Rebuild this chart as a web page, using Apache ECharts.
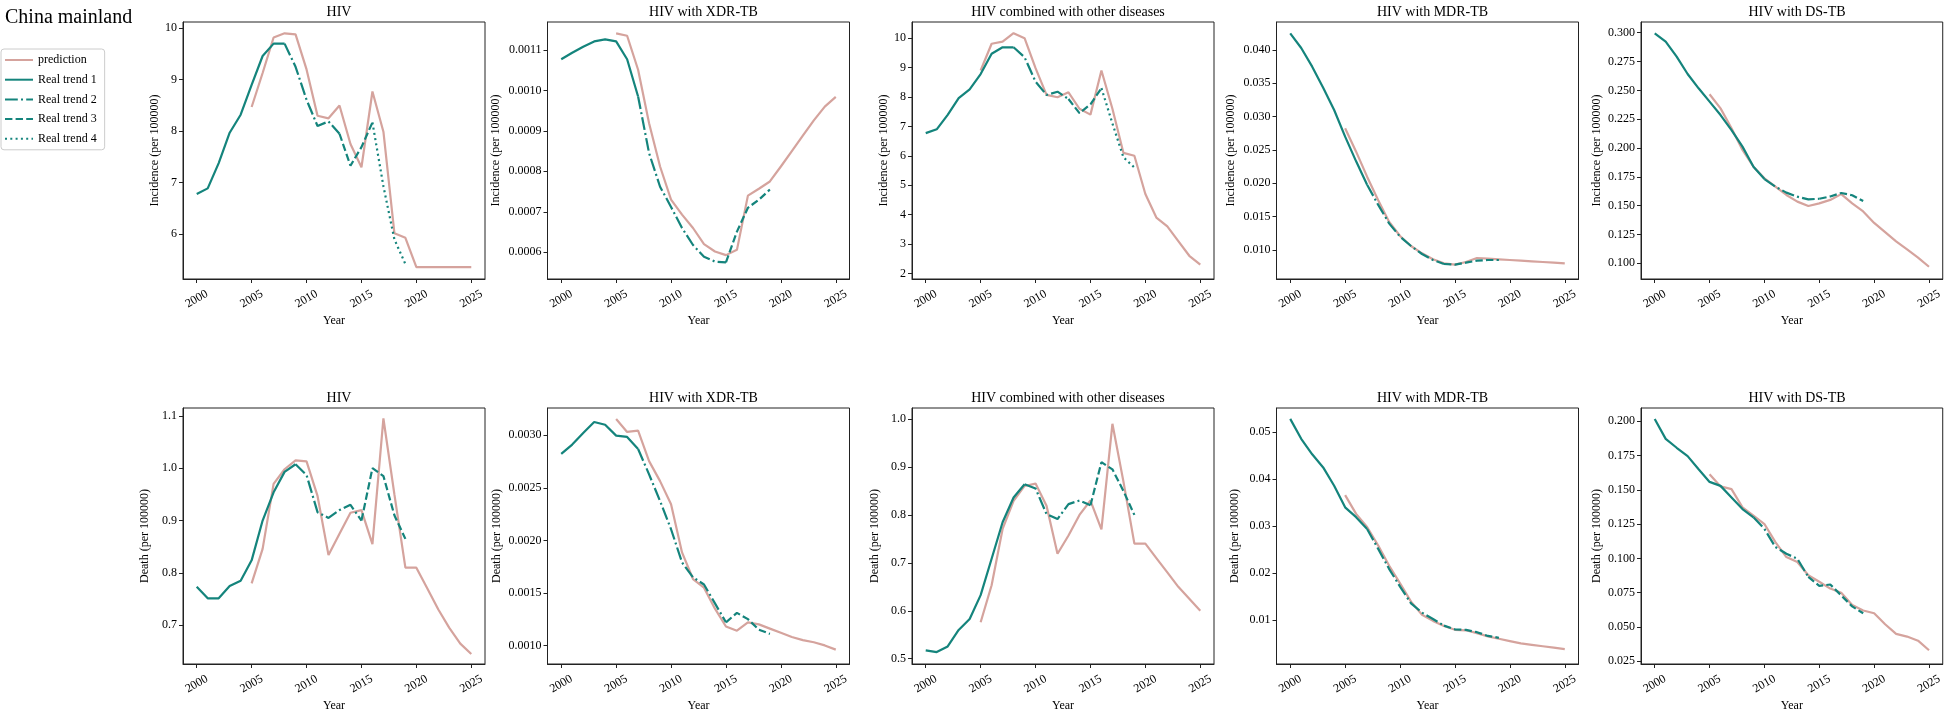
<!DOCTYPE html>
<html>
<head>
<meta charset="utf-8">
<script src="https://cdn.jsdelivr.net/npm/echarts@6/dist/echarts.min.js"></script>
<style>
  html, body { margin: 0; padding: 0; background: #fff; }
  #main { width: 1945px; height: 713px; }
</style>
</head>
<body>
<div id="main"></div>
<script>
// years of the observed (real) series and of the prediction series
const realYears = [2000, 2001, 2002, 2003, 2004, 2005, 2006, 2007, 2008, 2009, 2010, 2011, 2012, 2013, 2014, 2015, 2016, 2017, 2018, 2019];
const predYears = [2005, 2006, 2007, 2008, 2009, 2010, 2011, 2012, 2013, 2014, 2015, 2016, 2017, 2018, 2019, 2020, 2021, 2022, 2023, 2024, 2025];
const yearTicks = [2000, 2005, 2010, 2015, 2020, 2025];

const panelTitles = ['HIV', 'HIV with XDR-TB', 'HIV combined with other diseases', 'HIV with MDR-TB', 'HIV with DS-TB',
                     'HIV', 'HIV with XDR-TB', 'HIV combined with other diseases', 'HIV with MDR-TB', 'HIV with DS-TB'];
const yNames = ['Incidence (per 100000)', 'Incidence (per 100000)', 'Incidence (per 100000)', 'Incidence (per 100000)', 'Incidence (per 100000)',
                'Death (per 100000)', 'Death (per 100000)', 'Death (per 100000)', 'Death (per 100000)', 'Death (per 100000)'];

// incidence, real
const incHivReal  = [6.78, 6.89, 7.38, 7.97, 8.32, 8.90, 9.46, 9.70, 9.70, 9.25, 8.61, 8.10, 8.19, 7.95, 7.33, 7.69, 8.17, 6.93, 5.90, 5.42];
const incXdrReal  = [0.001077, 0.001093, 0.001108, 0.001121, 0.001126, 0.001121, 0.001077, 0.000985, 0.000845, 0.000762, 0.000712, 0.000660, 0.000618, 0.000589, 0.000577, 0.000575, 0.000651, 0.000710, 0.000730, 0.000755];
const incCombReal = [6.77, 6.90, 7.39, 7.96, 8.26, 8.78, 9.47, 9.69, 9.69, 9.35, 8.52, 8.07, 8.18, 7.93, 7.45, 7.75, 8.30, 7.10, 5.95, 5.60];
const incMdrReal  = [0.0425, 0.0403, 0.0375, 0.03435, 0.0310, 0.0270, 0.0233, 0.0198, 0.0168, 0.0140, 0.0120, 0.0106, 0.0094, 0.0085, 0.0079, 0.0078, 0.0081, 0.0084, 0.0085, 0.0085];
const incDsReal   = [0.2995, 0.2922, 0.2792, 0.2642, 0.2518, 0.2402, 0.2286, 0.2156, 0.2012, 0.1838, 0.1731, 0.1665, 0.1613, 0.1578, 0.1555, 0.1560, 0.1580, 0.1610, 0.1590, 0.1540];
// incidence, prediction
const incHivPred  = [8.47, 9.13, 9.82, 9.90, 9.88, 9.20, 8.30, 8.25, 8.50, 7.75, 7.30, 8.77, 7.99, 6.02, 5.93, 5.36, 5.36, 5.36, 5.36, 5.36, 5.36];
const incXdrPred  = [0.001141, 0.001135, 0.001051, 0.000919, 0.000812, 0.000730, 0.000693, 0.000660, 0.000620, 0.000602, 0.000593, 0.000606, 0.000740, 0.000757, 0.000775, 0.000812, 0.000850, 0.000888, 0.000926, 0.000960, 0.000984];
const incCombPred = [8.90, 9.81, 9.88, 10.17, 10.00, 8.98, 8.07, 7.99, 8.16, 7.60, 7.40, 8.90, 7.60, 6.10, 6.00, 4.70, 3.90, 3.60, 3.10, 2.60, 2.30];
const incMdrPred  = [0.02825, 0.02475, 0.0210, 0.0175, 0.01425, 0.0121, 0.0106, 0.0095, 0.0086, 0.0080, 0.0078, 0.0082, 0.0088, 0.0087, 0.0086, 0.0085, 0.0084, 0.0083, 0.0082, 0.0081, 0.0080];
const incDsPred   = [0.2466, 0.2344, 0.2171, 0.1983, 0.1838, 0.1737, 0.1665, 0.1593, 0.1535, 0.1497, 0.1520, 0.1550, 0.1600, 0.1520, 0.1450, 0.1350, 0.1270, 0.1190, 0.1120, 0.1050, 0.0970];

// death, real
const dthHivReal  = [0.7736, 0.7514, 0.7514, 0.7748, 0.785, 0.824, 0.900, 0.954, 0.993, 1.0076, 0.987, 0.916, 0.905, 0.920, 0.930, 0.900, 1.000, 0.985, 0.910, 0.865];
const dthXdrReal  = [0.002824, 0.002912, 0.003022, 0.003127, 0.003101, 0.002997, 0.002985, 0.00287, 0.002628, 0.002375, 0.002106, 0.00179, 0.001648, 0.00158, 0.00140, 0.00122, 0.00131, 0.00125, 0.00115, 0.00111];
const dthCombReal = [0.5174, 0.5139, 0.5257, 0.560, 0.583, 0.6326, 0.7086, 0.7846, 0.8364, 0.8639, 0.855, 0.8018, 0.7914, 0.8225, 0.830, 0.820, 0.910, 0.895, 0.850, 0.800];
const dthMdrReal  = [0.05284, 0.0486, 0.0453, 0.0425, 0.0386, 0.0340, 0.0319, 0.0294, 0.0252, 0.0209, 0.0171, 0.01354, 0.01157, 0.0102, 0.0088, 0.0080, 0.0079, 0.0074, 0.0066, 0.0062];
const dthDsReal   = [0.2017, 0.1872, 0.1807, 0.1746, 0.165, 0.1558, 0.1529, 0.1445, 0.136, 0.130, 0.1215, 0.1083, 0.1034, 0.0998, 0.0865, 0.0800, 0.0810, 0.0730, 0.0650, 0.0600];
// death, prediction
const dthHivPred  = [0.780, 0.846, 0.970, 0.998, 1.015, 1.013, 0.947, 0.834, 0.875, 0.915, 0.920, 0.855, 1.095, 0.950, 0.810, 0.810, 0.770, 0.730, 0.695, 0.665, 0.645];
const dthXdrPred  = [0.003155, 0.003032, 0.003044, 0.002754, 0.002564, 0.002343, 0.001885, 0.001632, 0.00155, 0.00135, 0.00118, 0.00114, 0.00122, 0.00120, 0.00116, 0.00112, 0.00108, 0.00105, 0.00103, 0.00100, 0.00096];
const dthCombPred = [0.576, 0.6533, 0.7707, 0.8293, 0.8604, 0.8654, 0.819, 0.719, 0.757, 0.800, 0.830, 0.770, 0.990, 0.870, 0.740, 0.740, 0.710, 0.680, 0.650, 0.625, 0.600];
const dthMdrPred  = [0.0366, 0.0326, 0.0298, 0.0259, 0.0216, 0.0178, 0.0139, 0.0111, 0.0098, 0.0087, 0.0079, 0.0078, 0.0072, 0.0065, 0.0060, 0.0055, 0.0050, 0.0047, 0.0044, 0.0041, 0.0038];
const dthDsPred   = [0.1614, 0.1525, 0.1505, 0.1372, 0.1312, 0.1251, 0.1119, 0.101, 0.0974, 0.0877, 0.0830, 0.0780, 0.0750, 0.0660, 0.0620, 0.0600, 0.0520, 0.0450, 0.0430, 0.0400, 0.0330];

// years where one real trend ends and the next begins
const trendBreaks = [[2008, 2013, 2016], [2007, 2015], [2008, 2013, 2016], [2007, 2014], [2010, 2015],
                     [2009, 2015], [2007, 2015], [2009, 2015], [2007, 2014], [2009, 2014]];

// y axis range and ticks per panel
const yMin = [5.13, 0.000534, 1.81, 0.00565, 0.0864, 0.626, 0.000823, 0.489, 0.00062, 0.0230];
const yMax = [10.12, 0.001169, 10.55, 0.0442, 0.3093, 1.115, 0.00326, 1.023, 0.05516, 0.2097];
const yTicks = [
  [6, 7, 8, 9, 10],
  [0.0006, 0.0007, 0.0008, 0.0009, 0.0010, 0.0011],
  [2, 3, 4, 5, 6, 7, 8, 9, 10],
  [0.010, 0.015, 0.020, 0.025, 0.030, 0.035, 0.040],
  [0.100, 0.125, 0.150, 0.175, 0.200, 0.225, 0.250, 0.275, 0.300],
  [0.7, 0.8, 0.9, 1.0, 1.1],
  [0.0010, 0.0015, 0.0020, 0.0025, 0.0030],
  [0.5, 0.6, 0.7, 0.8, 0.9, 1.0],
  [0.01, 0.02, 0.03, 0.04, 0.05],
  [0.025, 0.050, 0.075, 0.100, 0.125, 0.150, 0.175, 0.200]
];
const yDecimals = [0, 4, 0, 3, 3, 1, 4, 1, 2, 3];

const realSeries = [incHivReal, incXdrReal, incCombReal, incMdrReal, incDsReal, dthHivReal, dthXdrReal, dthCombReal, dthMdrReal, dthDsReal];
const predSeries = [incHivPred, incXdrPred, incCombPred, incMdrPred, incDsPred, dthHivPred, dthXdrPred, dthCombPred, dthMdrPred, dthDsPred];

const FONT = 'Liberation Serif';
const PINK = '#d5a39d';
const TEAL = '#14847c';
const trendDash = ['solid', [12.8, 3.2, 2, 3.2], [7.4, 3.2], [2, 3.3]];

const colLeft = [183, 547.5, 912, 1276.5, 1641];
const panelW = 302;
const rowTop = [22, 408];
const rowH = [257, 258];
const yNameGap = [22, 46, 22, 40, 38, 32, 45, 31, 36, 38];

const grids = [], xAxes = [], yAxes = [], titles = [], series = [];

titles.push({
  text: 'China mainland', left: 0, top: 3,
  textStyle: { fontFamily: FONT, fontSize: 20, fontWeight: 'normal', color: '#000' }
});

for (let i = 0; i < 10; i++) {
  const col = i % 5, row = Math.floor(i / 5);
  grids.push({
    left: colLeft[col], top: rowTop[row], width: panelW, height: rowH[row],
    show: true, borderColor: '#222', borderWidth: 1, backgroundColor: 'transparent'
  });
  titles.push({
    text: panelTitles[i], left: colLeft[col] + panelW / 2, top: row === 0 ? 0 : 386, textAlign: 'center',
    textStyle: { fontFamily: FONT, fontSize: 14, fontWeight: 'normal', color: '#000' }
  });
  xAxes.push({
    type: 'value', gridIndex: i, min: 1998.75, max: 2026.25,
    name: 'Year', nameLocation: 'middle', nameGap: 36,
    nameTextStyle: { fontFamily: FONT, fontSize: 12, color: '#000' },
    splitLine: { show: false },
    axisLine: { show: true, lineStyle: { color: '#222', width: 1 } },
    axisTick: { show: true, length: 4, customValues: yearTicks, lineStyle: { color: '#222' } },
    axisLabel: {
      customValues: yearTicks, rotate: 30, align: 'center', verticalAlign: 'middle', margin: 20,
      fontFamily: FONT, fontSize: 12, color: '#000', formatter: v => String(v)
    }
  });
  const dec = yDecimals[i];
  yAxes.push({
    type: 'value', gridIndex: i, min: yMin[i], max: yMax[i],
    name: yNames[i], nameLocation: 'middle', nameGap: yNameGap[i],
    nameTextStyle: { fontFamily: FONT, fontSize: 12, color: '#000' },
    splitLine: { show: false },
    axisLine: { show: true, lineStyle: { color: '#222', width: 1 } },
    axisTick: { show: true, length: 4, customValues: yTicks[i], lineStyle: { color: '#222' } },
    axisLabel: {
      customValues: yTicks[i], margin: 6,
      fontFamily: FONT, fontSize: 12, color: '#000', formatter: v => v.toFixed(dec)
    }
  });

  series.push({
    name: 'prediction', type: 'line', xAxisIndex: i, yAxisIndex: i,
    data: predYears.map((y, k) => [y, predSeries[i][k]]),
    symbol: 'none', color: PINK, lineStyle: { color: PINK, width: 2.2 }, z: 2
  });

  // split the real series into its trend segments
  const bounds = [realYears[0]].concat(trendBreaks[i], [realYears[realYears.length - 1]]);
  for (let s = 0; s < bounds.length - 1; s++) {
    const seg = [];
    realYears.forEach((y, k) => {
      if (y >= bounds[s] && y <= bounds[s + 1]) seg.push([y, realSeries[i][k]]);
    });
    series.push({
      name: 'Real trend ' + (s + 1), type: 'line', xAxisIndex: i, yAxisIndex: i,
      data: seg, symbol: 'none', color: TEAL,
      lineStyle: { color: TEAL, width: 2.2, type: trendDash[s] }, z: 3
    });
  }
}

const chart = echarts.init(document.getElementById('main'), null, { renderer: 'canvas' });
chart.setOption({
  animation: false,
  backgroundColor: '#fff',
  title: titles,
  legend: {
    data: ['prediction', 'Real trend 1', 'Real trend 2', 'Real trend 3', 'Real trend 4'],
    orient: 'vertical', left: 1, top: 49,
    itemWidth: 28, itemHeight: 10, itemGap: 7.7,
    padding: [5, 8, 5, 3],
    borderColor: '#ccc', borderWidth: 1, borderRadius: 3,
    itemStyle: { color: 'rgba(0,0,0,0)', borderColor: 'rgba(0,0,0,0)', borderWidth: 0, opacity: 0 },
    textStyle: { fontFamily: FONT, fontSize: 12, color: '#000' }
  },
  grid: grids,
  xAxis: xAxes,
  yAxis: yAxes,
  series: series
});
</script>
</body>
</html>
